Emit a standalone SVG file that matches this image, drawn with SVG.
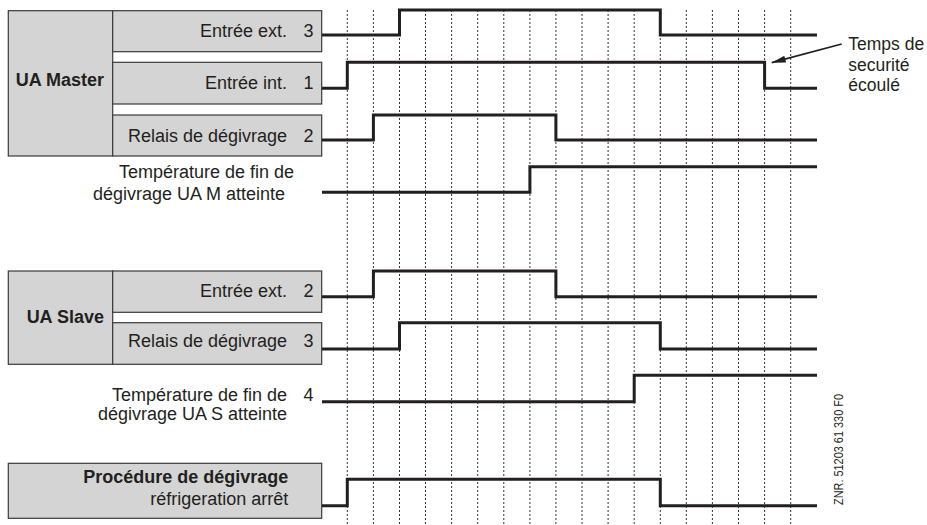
<svg xmlns="http://www.w3.org/2000/svg" width="927" height="525" viewBox="0 0 927 525">
<defs>
<style>
.box{fill:#d4d4d4;stroke:#3a3a3a;stroke-width:1.2}
.t{font-family:"Liberation Sans",Arial,Helvetica,sans-serif;font-size:18px;fill:#231f20}
.b{font-weight:bold}
.e{text-anchor:end}
.grid{stroke:#333;stroke-width:1;stroke-dasharray:2 2}
.sig{fill:none;stroke:#231f20;stroke-width:3;stroke-linejoin:miter;stroke-linecap:butt}
.ann{fill:none;stroke:#231f20;stroke-width:1.8}
</style>
<marker id="ah" markerUnits="userSpaceOnUse" markerWidth="15" markerHeight="8" refX="14" refY="3.5" orient="auto">
<path d="M0,0 L14,3.5 L0,7 Z" fill="#231f20"/>
</marker>
</defs>
<rect width="927" height="525" fill="#ffffff"/>

<g id="grid" class="grid">
<line x1="347.3" y1="10" x2="347.3" y2="525"/>
<line x1="373.4" y1="10" x2="373.4" y2="525"/>
<line x1="399.5" y1="10" x2="399.5" y2="525"/>
<line x1="425.5" y1="10" x2="425.5" y2="525"/>
<line x1="451.6" y1="10" x2="451.6" y2="525"/>
<line x1="477.7" y1="10" x2="477.7" y2="525"/>
<line x1="503.8" y1="10" x2="503.8" y2="525"/>
<line x1="529.9" y1="10" x2="529.9" y2="525"/>
<line x1="555.9" y1="10" x2="555.9" y2="525"/>
<line x1="582.0" y1="10" x2="582.0" y2="525"/>
<line x1="608.1" y1="10" x2="608.1" y2="525"/>
<line x1="634.2" y1="10" x2="634.2" y2="525"/>
<line x1="660.3" y1="10" x2="660.3" y2="525"/>
<line x1="686.3" y1="10" x2="686.3" y2="525"/>
<line x1="712.4" y1="10" x2="712.4" y2="525"/>
<line x1="738.5" y1="10" x2="738.5" y2="525"/>
<line x1="764.6" y1="10" x2="764.6" y2="525"/>
<line x1="790.7" y1="10" x2="790.7" y2="525"/>
</g>

<g id="ua-master">
<rect class="box" x="8.3" y="10.7" width="104.4" height="145.3"/>
<text class="t b e" x="104" y="86">UA Master</text>
</g>
<g id="master-entree-ext">
<rect class="box" x="112.7" y="10.7" width="209" height="41"/>
<text class="t e" x="287" y="36.7">Entrée ext.</text>
<text class="t e" x="313.5" y="36.7">3</text>
</g>
<g id="master-entree-int">
<rect class="box" x="112.7" y="62.3" width="209" height="41.7"/>
<text class="t e" x="287" y="89.3">Entrée int.</text>
<text class="t e" x="313.5" y="89.3">1</text>
</g>
<g id="master-relais">
<rect class="box" x="112.7" y="115" width="209" height="41"/>
<text class="t e" x="287" y="141.7">Relais de dégivrage</text>
<text class="t e" x="313.5" y="141.7">2</text>
</g>
<g id="master-temp">
<text class="t e" x="294" y="178.3">Température de fin de</text>
<text class="t e" x="285" y="200">dégivrage UA M atteinte</text>
</g>

<g id="ua-slave">
<rect class="box" x="8.3" y="271" width="104.4" height="93.3"/>
<text class="t b e" x="104" y="323.3">UA Slave</text>
</g>
<g id="slave-entree-ext">
<rect class="box" x="112.7" y="271" width="209" height="41.3"/>
<text class="t e" x="287" y="296.7">Entrée ext.</text>
<text class="t e" x="313.5" y="296.7">2</text>
</g>
<g id="slave-relais">
<rect class="box" x="112.7" y="322.7" width="209" height="41.6"/>
<text class="t e" x="287" y="346.7">Relais de dégivrage</text>
<text class="t e" x="313.5" y="346.7">3</text>
</g>
<g id="slave-temp">
<text class="t e" x="287" y="401">Température de fin de</text>
<text class="t e" x="313.5" y="401">4</text>
<text class="t e" x="287" y="420">dégivrage UA S atteinte</text>
</g>

<g id="procedure">
<rect class="box" x="8.3" y="463.3" width="313.4" height="55"/>
<text class="t b e" x="288.3" y="483.3">Procédure de dégivrage</text>
<text class="t e" x="288.3" y="505">réfrigeration arrêt</text>
</g>

<g id="connectors">
<path class="sig" d="M322,35 H399.5 V10 H660.3 V35 H817"/>
<path class="sig" d="M322,88.3 H347.3 V62.3 H764.6 V88.3 H817"/>
<path class="sig" d="M322,140 H373.4 V115 H555.9 V140 H817"/>
<path class="sig" d="M322,192.3 H529.9 V166.7 H817"/>
<path class="sig" d="M322,296.7 H373.4 V271 H555.9 V296.7 H817"/>
<path class="sig" d="M322,349 H399.5 V322.7 H660.3 V349 H817"/>
<path class="sig" d="M322,401.7 H634.2 V375.3 H817"/>
<path class="sig" d="M322,505.7 H347.3 V479.3 H660.3 V505.7 H817"/>
<line class="ann" x1="841.7" y1="44" x2="771.7" y2="62.7" marker-end="url(#ah)"/>
</g>

<g id="annotation">
<text class="t" style="font-size:17.5px" x="848.3" y="50">Temps de</text>
<text class="t" style="font-size:17.5px" x="848.3" y="70.5">securité</text>
<text class="t" style="font-size:17.5px" x="848.3" y="91">écoulé</text>
</g>

<text class="t" style="font-size:13px" transform="translate(843,505) rotate(-90)" x="0" y="0" textLength="111" lengthAdjust="spacingAndGlyphs">ZNR. 51203 61 330 F0</text>
</svg>
